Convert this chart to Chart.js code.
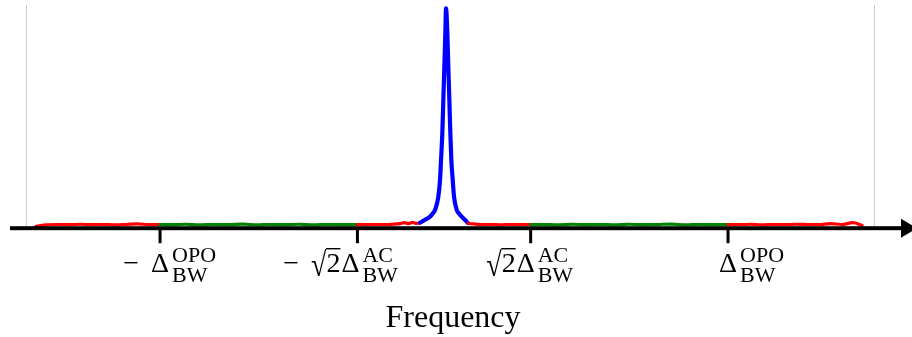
<!DOCTYPE html>
<html>
<head>
<meta charset="utf-8">
<script src="https://cdn.jsdelivr.net/npm/chart.js@4/dist/chart.umd.min.js"></script>
<style>
  html, body { margin: 0; background: #fff; }
  #wrap { width: 912px; height: 337px; }
</style>
</head>
<body>
<div id="wrap"><canvas id="spectrum" width="912" height="337"></canvas></div>
<script>
// frequency in units of the OPO bandwidth, power normalised to the peak
const freq = [
  -1.437, -1.40, -1.36, -1.32, -1.28, -1.24, -1.20, -1.16, -1.12, -1.08, -1.04, -1.0,
  -0.96, -0.91, -0.86, -0.81, -0.76, -0.71, -0.66, -0.61, -0.56, -0.51, -0.46, -0.41, -0.36, -0.305,
  -0.27, -0.24, -0.21, -0.18, -0.155, -0.14, -0.125, -0.11, -0.097, -0.0845,
  -0.0785, -0.0669, -0.0493, -0.0405, -0.0317, -0.0201, -0.0141, -0.0106, -0.0060, -0.0025, 0.0011, 0.0046, 0.0070,
  0.0116, 0.0151, 0.0187, 0.0222, 0.0257, 0.0306, 0.0352, 0.0447, 0.0535, 0.0623, 0.0760, 0.0845,
  0.11, 0.14, 0.17, 0.20, 0.23, 0.26, 0.305,
  0.35, 0.40, 0.45, 0.50, 0.55, 0.60, 0.65, 0.70, 0.75, 0.80, 0.85, 0.90, 0.95, 1.0,
  1.04, 1.08, 1.12, 1.16, 1.20, 1.24, 1.28, 1.32, 1.36, 1.40, 1.44, 1.472
];
const power = [
  0.010, 0.016, 0.018, 0.017, 0.019, 0.017, 0.018, 0.016, 0.018, 0.021, 0.017, 0.018,
  0.017, 0.019, 0.016, 0.018, 0.017, 0.020, 0.016, 0.018, 0.017, 0.019, 0.016, 0.018, 0.017, 0.018,
  0.017, 0.018, 0.017, 0.019, 0.022, 0.026, 0.022, 0.027, 0.023, 0.026,
  0.030, 0.039, 0.053, 0.066, 0.083, 0.142, 0.217, 0.306, 0.427, 0.575, 0.724, 0.875, 0.985,
  0.875, 0.724, 0.575, 0.427, 0.306, 0.217, 0.142, 0.083, 0.066, 0.053, 0.036, 0.024,
  0.020, 0.017, 0.018, 0.016, 0.018, 0.017, 0.018,
  0.018, 0.016, 0.019, 0.017, 0.018, 0.016, 0.019, 0.017, 0.018, 0.020, 0.016, 0.018, 0.017, 0.018,
  0.017, 0.019, 0.016, 0.018, 0.017, 0.019, 0.018, 0.017, 0.022, 0.018, 0.026, 0.014
];

// band edges (|f|) and the colour used inside each band
const bandEdges = [0.0845, 0.305, 1.0, Infinity];
const bandColours = ['#0000ff', '#ff0000', '#008000', '#ff0000'];

// axis ticks: -Δ_OPO, -√2Δ_AC, √2Δ_AC, Δ_OPO
const tickValues = [-1, -0.305, 0.305, 1];
const tickSign = ['−', '−', '', ''];
const tickFactor = ['', '2', '2', ''];   // drawn under a radical
const tickSup = ['OPO', 'AC', 'AC', 'OPO'];
const tickSub = ['BW', 'BW', 'BW', 'BW'];
const deltaShift = [-9, -16, -14, -9];

const MAIN_FONT = '28px "Liberation Serif"';
const SCRIPT_FONT = '22px "Liberation Serif"';

function bandColour(f) {
  const a = Math.abs(f);
  for (let i = 0; i < bandEdges.length; i++) if (a <= bandEdges[i]) return bandColours[i];
  return bandColours[bandColours.length - 1];
}

function drawTickLabel(ctx, px, i) {
  const base = 272;
  const dl = px + deltaShift[i];
  ctx.textAlign = 'left';
  ctx.textBaseline = 'alphabetic';
  ctx.font = MAIN_FONT;
  ctx.fillText('Δ', dl, base);
  let left = dl;
  if (tickFactor[i]) {
    const tw = ctx.measureText(tickFactor[i]).width;
    ctx.fillText(tickFactor[i], dl - tw - 1, base);
    // radical sign stretched from the bar (y=248) to below the baseline
    const m = ctx.measureText('√');
    const rx = dl - tw - 1 - m.width;
    const barY = 248;
    const s = 29 / (m.actualBoundingBoxAscent + m.actualBoundingBoxDescent);
    ctx.save();
    ctx.translate(rx, barY + s * m.actualBoundingBoxAscent);
    ctx.scale(1, s);
    ctx.fillText('√', 0, 0);
    ctx.restore();
    const bx = rx + m.actualBoundingBoxRight - 1;
    ctx.fillRect(bx, barY, dl - 1 - bx, 1.4);
    left = rx;
  }
  if (tickSign[i]) {
    const mw = ctx.measureText(tickSign[i]).width;
    ctx.fillText(tickSign[i], left - 12 - mw, base);
  }
  ctx.font = SCRIPT_FONT;
  ctx.fillText(tickSup[i], dl + 21, 262);
  ctx.fillText(tickSub[i], dl + 21, 282);
}

const axisDecor = {
  id: 'axisDecor',
  beforeDatasetsDraw(chart) {
    const { ctx, chartArea: a } = chart;
    ctx.save();
    ctx.strokeStyle = '#cccccc';
    ctx.lineWidth = 1;
    [a.left, a.right].forEach(x => {
      ctx.beginPath();
      ctx.moveTo(Math.round(x) + 0.5, a.top);
      ctx.lineTo(Math.round(x) + 0.5, a.bottom);
      ctx.stroke();
    });
    ctx.restore();
  },
  afterDatasetsDraw(chart) {
    const { ctx, chartArea: a, scales } = chart;
    const y0 = scales.y.getPixelForValue(0) - 0.3;
    ctx.save();
    ctx.fillStyle = '#000';
    // frequency axis with arrow head
    ctx.fillRect(10, y0 - 2, 892, 4);
    ctx.beginPath();
    ctx.moveTo(901, y0 - 9.5);
    ctx.lineTo(917, y0);
    ctx.lineTo(901, y0 + 9.5);
    ctx.closePath();
    ctx.fill();
    tickValues.forEach((v, i) => {
      const px = scales.x.getPixelForValue(v);
      ctx.fillRect(px - 1.5, y0, 3, 15);
      drawTickLabel(ctx, px, i);
    });
    ctx.font = '32px "Liberation Serif"';
    ctx.textAlign = 'center';
    ctx.fillText('Frequency', (a.left + a.right) / 2 + 3, 327);
    ctx.restore();
  }
};

new Chart(document.getElementById('spectrum'), {
  type: 'line',
  data: {
    datasets: [{
      data: freq.map((f, i) => ({ x: f, y: power[i] })),
      borderWidth: 3.2,
      pointRadius: 0,
      borderJoinStyle: 'round',
      borderCapStyle: 'round',
      cubicInterpolationMode: 'monotone',
      fill: false,
      segment: {
        borderColor: c => bandColour((c.p0.parsed.x + c.p1.parsed.x) / 2),
        borderWidth: c => Math.abs((c.p0.parsed.x + c.p1.parsed.x) / 2) <= bandEdges[0] ? 4.2 : 3.2,
      },
    }],
  },
  options: {
    responsive: false,
    animation: false,
    devicePixelRatio: 1,
    layout: { padding: { left: 26, right: 38, top: 5, bottom: 108.5 } },
    plugins: { legend: { display: false }, tooltip: { enabled: false } },
    scales: {
      x: { type: 'linear', min: -1.472, max: 1.514, display: false },
      y: { min: 0, max: 1, display: false },
    },
  },
  plugins: [axisDecor],
});
</script>
</body>
</html>
